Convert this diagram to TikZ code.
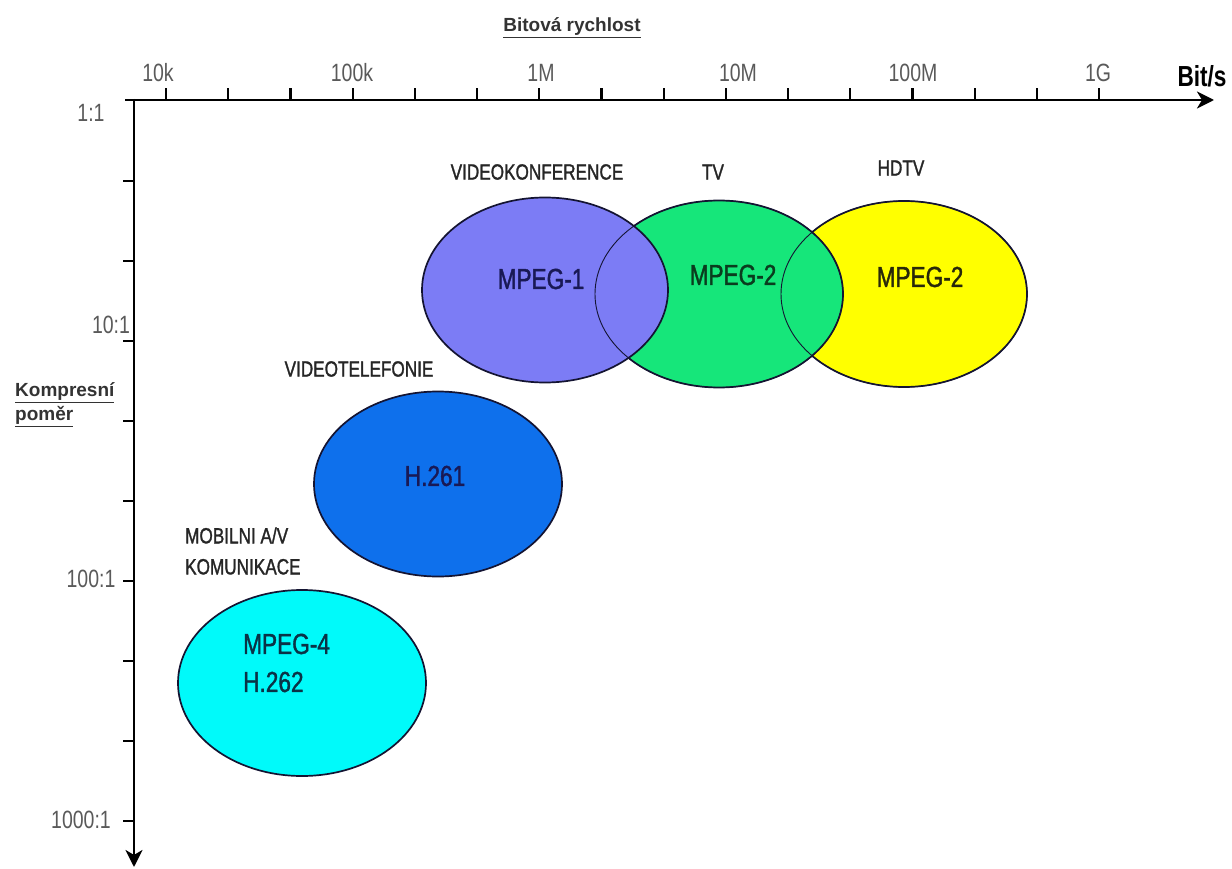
\documentclass[tikz,border=0pt]{standalone}
\usepackage{fontspec}
\setmainfont{Liberation Sans}[FakeStretch=0.78]
\newfontfamily\widesans{Liberation Sans}
\newfontfamily\heavysans{Liberation Sans}[FakeStretch=0.78, FakeBold=1.3]
\usetikzlibrary{shapes.geometric,arrows.meta}
\definecolor{cMpegOne}{RGB}{124,124,245}
\definecolor{cTv}{RGB}{22,230,122}
\definecolor{cHd}{RGB}{255,255,0}
\definecolor{cHsix}{RGB}{14,112,236}
\definecolor{cMob}{RGB}{0,250,250}
\definecolor{cLine}{RGB}{20,20,50}
\definecolor{cTick}{RGB}{90,90,90}
\definecolor{cNavy}{RGB}{25,25,85}
\definecolor{cDkGreen}{RGB}{10,60,30}
\definecolor{cOlive}{RGB}{40,40,10}
\definecolor{cTeal}{RGB}{10,50,70}
\begin{document}
\begin{tikzpicture}[x=1pt,y=-1pt,
  blob/.style={ellipse, draw=cLine, line width=1.7pt, inner sep=0pt},
  rim/.style={ellipse, draw=cLine, line width=0.9pt, inner sep=0pt},
  axisline/.style={line width=2.8pt, draw=black},
  tickmark/.style={line width=2.2pt},
  ticklabel/.style={font=\fontsize{25}{28}\selectfont, text=cTick, inner sep=0pt},
  catlabel/.style={font=\heavysans\fontsize{22}{26}\selectfont, text=black!85, inner sep=0pt},
  codec/.style={font=\heavysans\fontsize{29}{34}\selectfont, inner sep=0pt},
  axtitle/.style={font=\widesans\bfseries\fontsize{19}{24}\selectfont, text=black!80, inner sep=0pt},
  axtip/.style={-{Stealth[length=17pt,width=17pt,inset=5pt]}}
]
\useasboundingbox[fill=white] (0,0) rectangle (1232,869);

% ellipses
\node[blob, fill=cHd, minimum width=246pt, minimum height=186pt] (hdtv) at (904,294) {};
\node[blob, fill=cTv, minimum width=248pt, minimum height=187pt] (tv) at (719,294) {};
\node[blob, fill=cMpegOne, minimum width=246pt, minimum height=185pt] (mpegone) at (545,290) {};
\node[rim, minimum width=248pt, minimum height=187pt] (tvrim) at (tv.center) {};
\node[rim, minimum width=246pt, minimum height=186pt] (hdrim) at (hdtv.center) {};
\node[blob, fill=cHsix, minimum width=248pt, minimum height=185pt] (hsix) at (438,484) {};
\node[blob, fill=cMob, minimum width=248pt, minimum height=186pt] (mob) at (302,683) {};

% codec labels
\node[codec, text=cNavy] (lmpegone) at (541,279) {MPEG-1};
\node[codec, text=cDkGreen] (ltv) at (733,275) {MPEG-2};
\node[codec, text=cOlive] (lhd) at (920,277) {MPEG-2};
\node[codec, text=cNavy] (lhsix) at (435,476) {H.261};
\node[codec, text=cTeal, align=left, anchor=west, font=\heavysans\fontsize{29}{38}\selectfont] (lmob) at (243,663) {MPEG-4\\H.262};

% category labels
\node[catlabel] (cvk) at (537,172) {VIDEOKONFERENCE};
\node[catlabel] (ctv) at (713,172) {TV};
\node[catlabel] (chd) at (901,168) {HDTV};
\node[catlabel] (cvt) at (359,369) {VIDEOTELEFONIE};
\node[catlabel, align=left, anchor=west, font=\heavysans\fontsize{22}{31}\selectfont] (cmob) at (185,551) {MOBILNI A/V\\KOMUNIKACE};

% axes
\coordinate (xstart) at (125,100);
\coordinate (xend) at (1214,100);
\coordinate (ystart) at (134,99);
\coordinate (yend) at (134,867);
\draw[axisline, axtip] (xstart) -- (xend);
\draw[axisline, axtip] (ystart) -- (yend);
\foreach \i in {0,...,15} \draw[tickmark] ({166+62.2*\i},100) -- ++(0,-12);
\foreach \i in {0,...,8} \draw[tickmark] (134,{181+80*\i}) -- ++(-11,0);

% x tick labels
\node[ticklabel] (t10k) at (158,73) {10k};
\node[ticklabel] (t100k) at (352,73) {100k};
\node[ticklabel] (t1m) at (541,73) {1M};
\node[ticklabel] (t10m) at (738,73) {10M};
\node[ticklabel] (t100m) at (913,73) {100M};
\node[ticklabel] (t1g) at (1098,73) {1G};
\node[font=\bfseries\fontsize{29}{32}\selectfont, inner sep=0pt] (bits) at (1202,76) {Bit/s};

% y tick labels
\node[ticklabel] (r1) at (91,113) {1:1};
\node[ticklabel] (r10) at (111,325) {10:1};
\node[ticklabel] (r100) at (91,579) {100:1};
\node[ticklabel] (r1000) at (81,820) {1000:1};

% axis titles
\node[axtitle] (xtitle) at (572,28) {\underline{Bitová rychlost}};
\node[axtitle, align=left, anchor=west] (ytitle) at (15,405) {\underline{Kompresní}\\\underline{poměr}};
\end{tikzpicture}
\end{document}
